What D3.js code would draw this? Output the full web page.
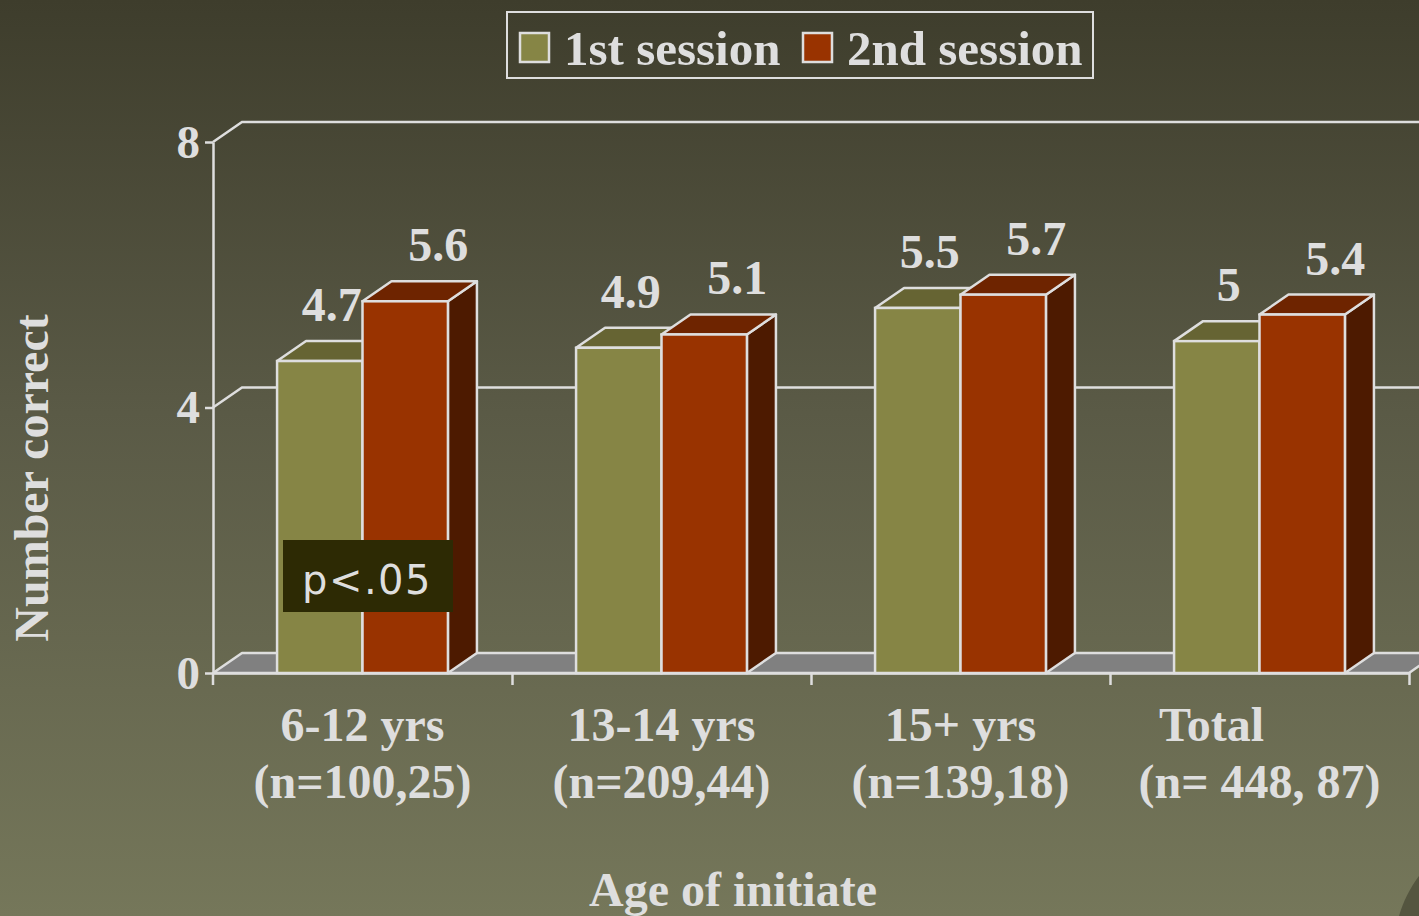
<!DOCTYPE html>
<html>
<head>
<meta charset="utf-8">
<script src="https://cdn.jsdelivr.net/npm/d3@7"></script>
<style>
  body { margin: 0; background: #4b4b38; }
  svg { display: block; }
</style>
</head>
<body>
<div id="chart"></div>
<script>
// chart values
var categories = ["6-12 yrs", "13-14 yrs", "15+ yrs", "Total\u00a0\u00a0\u00a0\u00a0\u00a0\u00a0\u00a0\u00a0"];
var sampleSizes = ["(n=100,25)", "(n=209,44)", "(n=139,18)", "(n= 448, 87)"];
var seriesNames = ["1st session", "2nd session"];
var session1 = [4.7, 4.9, 5.5, 5];
var session2 = [5.6, 5.1, 5.7, 5.4];
var yTicks = [0, 4, 8];

var svgWidth = 1419;
var svgHeight = 916;
var textColor = "#dedede";
var serif = "'Liberation Serif', 'Times New Roman', serif";

// depth of the fake 3d box
var depthX = 29;
var depthY = -20;

var colors = {
  "1st session": { front: "#868545", top: "#666433", side: "#4f4e25" },
  "2nd session": { front: "#993300", top: "#6e2400", side: "#4d1a00" }
};

var svg = d3.select("#chart")
  .append("svg")
  .attr("width", svgWidth)
  .attr("height", svgHeight);

var defs = svg.append("defs");
var grad = defs.append("linearGradient")
  .attr("id", "bg")
  .attr("x1", 0).attr("y1", 0)
  .attr("x2", 0).attr("y2", 1);
grad.append("stop").attr("offset", "0%").attr("stop-color", "#3e3d2c");
grad.append("stop").attr("offset", "45%").attr("stop-color", "#5a5a46");
grad.append("stop").attr("offset", "100%").attr("stop-color", "#75775a");

svg.append("rect")
  .attr("width", svgWidth)
  .attr("height", svgHeight)
  .attr("fill", "url(#bg)");

// little dark swoosh in the bottom right corner
svg.append("path")
  .attr("d", "M1419,876 C1410,888 1403,902 1399,916 L1419,916 Z")
  .attr("fill", "#54553f");

// scales
var y = d3.scaleLinear()
  .domain([0, 8])
  .range([673, 142]);

var x0 = d3.scaleBand()
  .domain(categories)
  .range([213, 1409])
  .paddingInner(0)
  .paddingOuter(0);

var x1 = d3.scaleBand()
  .domain(seriesNames)
  .range([0, x0.bandwidth()])
  .paddingInner(0)
  .paddingOuter(0.75);

var xEdges = d3.scaleLinear()
  .domain([0, categories.length])
  .range([213, 1409]);

var wallLeft = 213 + depthX;

// back wall grid lines
yTicks.forEach(function(v) {
  if (v === 0) return;
  svg.append("path")
    .attr("d", `M213,${y(v)} L${wallLeft},${y(v) + depthY} L${svgWidth + 5},${y(v) + depthY}`)
    .attr("fill", "none")
    .attr("stroke", textColor)
    .attr("stroke-width", 2.5);
});

// floor
svg.append("path")
  .attr("d", `M213,${y(0)} L${wallLeft},${y(0) + depthY} L${1409 + depthX},${y(0) + depthY} L1409,${y(0)} Z`)
  .attr("fill", "#808080")
  .attr("stroke", textColor)
  .attr("stroke-width", 2.5)
  .attr("stroke-linejoin", "round");

// y axis
var yAxis = d3.axisLeft(y)
  .tickValues(yTicks)
  .tickSize(8)
  .tickSizeOuter(0)
  .tickPadding(5)
  .tickFormat(d3.format("d"));

var yAxisG = svg.append("g")
  .attr("transform", "translate(213,0)")
  .call(yAxis);

yAxisG.select(".domain").attr("stroke", textColor).attr("stroke-width", 2.5);
yAxisG.selectAll(".tick line").attr("stroke", textColor).attr("stroke-width", 2.5);
yAxisG.selectAll(".tick text")
  .attr("fill", textColor)
  .attr("font-family", serif)
  .attr("font-weight", "bold")
  .attr("font-size", 47);

// y axis runs a bit below zero
svg.append("line")
  .attr("x1", 213).attr("x2", 213)
  .attr("y1", y(0)).attr("y2", y(0) + 12)
  .attr("stroke", textColor)
  .attr("stroke-width", 2.5);

// bars
categories.forEach(function(cat, i) {
  var values = [session1[i], session2[i]];
  seriesNames.forEach(function(s, j) {
    var v = values[j];
    var bx = x0(cat) + x1(s);
    var bw = x1.bandwidth();
    var by = y(v);
    var base = y(0);
    var c = colors[s];
    var g = svg.append("g").attr("class", "bar");

    // side face
    g.append("path")
      .attr("d", `M${bx + bw},${by} L${bx + bw + depthX},${by + depthY} L${bx + bw + depthX},${base + depthY} L${bx + bw},${base} Z`)
      .attr("fill", c.side)
      .attr("stroke", textColor)
      .attr("stroke-width", 2.5)
      .attr("stroke-linejoin", "round");

    // top face
    g.append("path")
      .attr("d", `M${bx},${by} L${bx + depthX},${by + depthY} L${bx + bw + depthX},${by + depthY} L${bx + bw},${by} Z`)
      .attr("fill", c.top)
      .attr("stroke", textColor)
      .attr("stroke-width", 2.5)
      .attr("stroke-linejoin", "round");

    // front face
    g.append("rect")
      .attr("x", bx)
      .attr("y", by)
      .attr("width", bw)
      .attr("height", base - by)
      .attr("fill", c.front)
      .attr("stroke", textColor)
      .attr("stroke-width", 2.5);

    // value label
    svg.append("text")
      .attr("x", bx + bw / 2 + (j === 0 ? 12 : 33))
      .attr("y", by - (j === 0 ? 40 : 40))
      .attr("text-anchor", "middle")
      .attr("font-family", serif)
      .attr("font-weight", "bold")
      .attr("font-size", 48)
      .attr("fill", textColor)
      .text(v);
  });
});

// x axis
var xAxis = d3.axisBottom(xEdges)
  .tickValues(d3.range(1, categories.length + 1))
  .tickSize(12)
  .tickSizeOuter(0)
  .tickFormat("");

var xAxisG = svg.append("g")
  .attr("transform", `translate(0,${y(0)})`)
  .call(xAxis);

xAxisG.select(".domain").attr("stroke", textColor).attr("stroke-width", 2.5);
xAxisG.selectAll(".tick line").attr("stroke", textColor).attr("stroke-width", 2.5);

// category labels
var catLabels = svg.append("g");
categories.forEach(function(cat, i) {
  var cx = x0(cat) + x0.bandwidth() / 2;
  var t = catLabels.append("text")
    .attr("text-anchor", "middle")
    .attr("font-family", serif)
    .attr("font-weight", "bold")
    .attr("font-size", 48)
    .attr("fill", textColor)
    .style("white-space", "pre");
  t.append("tspan").attr("x", cx).attr("y", 741).text(cat);
  t.append("tspan").attr("x", cx).attr("y", 798).text(sampleSizes[i]);
});

// axis titles
svg.append("text")
  .attr("x", 733)
  .attr("y", 906)
  .attr("text-anchor", "middle")
  .attr("font-family", serif)
  .attr("font-weight", "bold")
  .attr("font-size", 48)
  .attr("fill", textColor)
  .text("Age of initiate");

svg.append("text")
  .attr("transform", "translate(48,478) rotate(-90)")
  .attr("text-anchor", "middle")
  .attr("font-family", serif)
  .attr("font-weight", "bold")
  .attr("font-size", 48)
  .attr("fill", textColor)
  .text("Number correct");

// p value box
svg.append("rect")
  .attr("x", 283)
  .attr("y", 540)
  .attr("width", 170)
  .attr("height", 72)
  .attr("fill", "#2d2a04");

svg.append("text")
  .attr("x", 302)
  .attr("y", 594)
  .attr("font-family", "'DejaVu Sans', sans-serif")
  .attr("font-size", 40)
  .attr("letter-spacing", 1.5)
  .attr("fill", textColor)
  .text("p<.05");

// legend
var legend = svg.append("g");
legend.append("rect")
  .attr("x", 507)
  .attr("y", 12)
  .attr("width", 586)
  .attr("height", 66)
  .attr("fill", "none")
  .attr("stroke", textColor)
  .attr("stroke-width", 2);

var legendX = [520, 803];
seriesNames.forEach(function(s, i) {
  legend.append("rect")
    .attr("x", legendX[i])
    .attr("y", 33)
    .attr("width", 29)
    .attr("height", 29)
    .attr("fill", colors[s].front)
    .attr("stroke", textColor)
    .attr("stroke-width", 2.5);
  legend.append("text")
    .attr("x", legendX[i] + 44)
    .attr("y", 65)
    .attr("font-family", serif)
    .attr("font-weight", "bold")
    .attr("font-size", 49)
    .attr("fill", textColor)
    .text(s);
});
</script>
</body>
</html>
